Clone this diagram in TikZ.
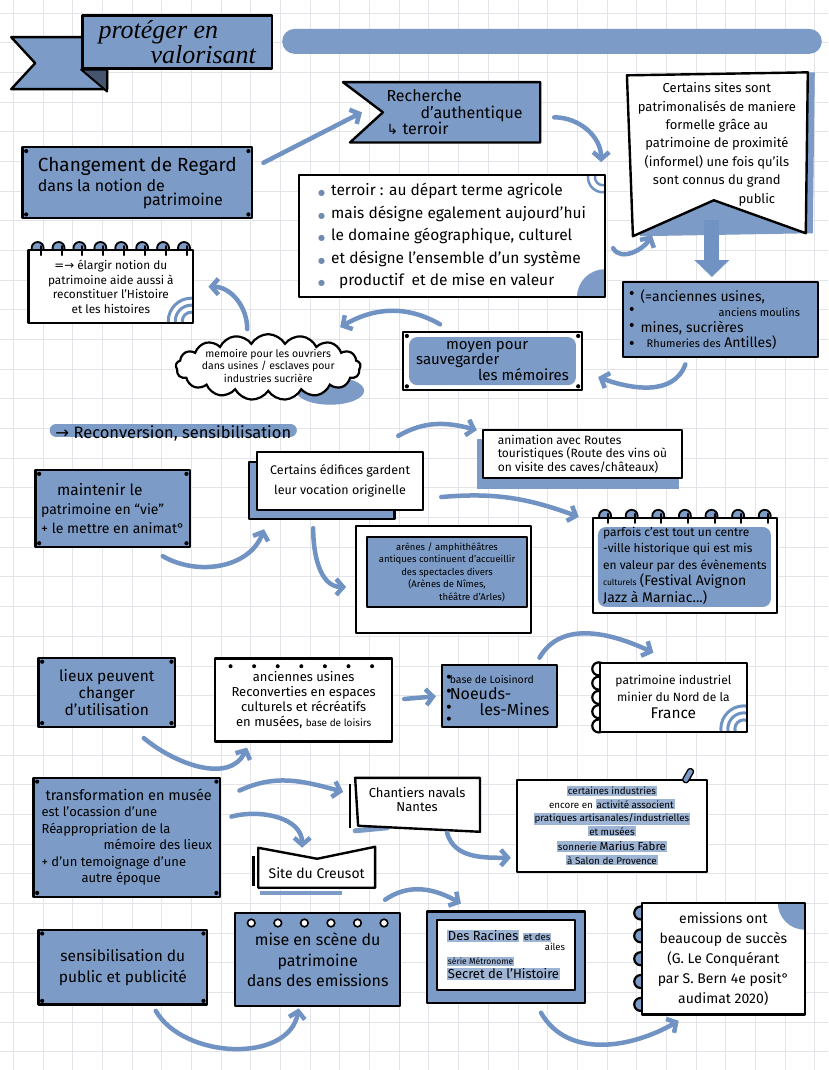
\documentclass[tikz,border=0pt]{standalone}
\usepackage{fontspec}
\setmainfont{Fira Sans}
\newfontfamily\symb{DejaVu Sans}
\newfontfamily\titlefont{Liberation Serif}
\usetikzlibrary{positioning,arrows.meta,calc,shapes.symbols}
\definecolor{bleu}{RGB}{124,155,198}
\definecolor{fleche}{RGB}{112,147,196}
\definecolor{grille}{RGB}{226,228,234}
\newcommand\tsz[2]{\fontsize{#1}{#2}\selectfont}
\newcommand\surl[1]{{\setlength{\fboxsep}{1pt}\colorbox{bleu!75}{#1}}}
\newcommand\puce{{\symb\tsz{8}{8}\textcolor{bleu!90!black}{●}}\hspace{6pt}}
\newcommand\coins[1]{\foreach \ca/\dx/\dy in {north west/5/5,north east/-5/5,south west/5/-5,south east/-5/-5}{\fill ([shift={(\dx,\dy)}]#1.\ca) circle (2.1pt);}}
\newcommand\anneauxhaut[2]{%
  \begin{pgfonlayer}{back}
  \foreach \k in {1,...,#2}{\draw[line width=1.8pt, fill=bleu] ($(#1.north west)!{(\k-0.5)/#2}!(#1.north east)$) ++(0,-1) circle (6pt);}
  \end{pgfonlayer}
  \foreach \k in {1,...,#2}{\draw[line width=2pt, line cap=round] ($(#1.north west)!{(\k-0.5)/#2}!(#1.north east)$) ++(3,-3) -- ++(0,9);}}
\newcommand\anneauxgauche[3]{%
  \begin{pgfonlayer}{back}
  \foreach \k in {1,...,#2}{\draw[line width=2.2pt, fill=#3] ($(#1.north west)!{(\k-0.5)/#2}!(#1.south west)$) circle (6.5pt);}
  \end{pgfonlayer}}
\pgfdeclarelayer{grid}
\pgfdeclarelayer{back}
\pgfsetlayers{grid,back,main}
\tikzset{
    bluebox/.style = {
        draw,
        shape=rectangle,
        fill=bleu,
        line width=2.4pt,
        line join=round,
        inner sep=2pt,
        align=center
    },
    whitebox/.style = {
        bluebox,
        fill=white
    },
    frame/.style = {
        draw,
        line width=2.4pt,
        line join=round
    },
    arr/.style = {
        draw=fleche,
        line width=4.5pt,
        line cap=round,
        -{Straight Barb[length=7pt,width=16pt]}
    },
    bigarr/.style = {
        draw=fleche,
        line width=15pt,
        -{Triangle[length=17pt,width=34pt]}
    },
}

\begin{document}
\begin{tikzpicture}[x=1pt, y=-1pt]
    \begin{pgfonlayer}{grid}
        \fill[white] (0,0) rectangle (828,1070);
        \foreach \gx in {13,42.7,...,828} \draw[grille, line width=0.8pt] (\gx,0) -- (\gx,1070);
        \foreach \gy in {12.6,42.3,...,1070} \draw[grille, line width=0.8pt] (0,\gy) -- (828,\gy);
    \end{pgfonlayer}
    \useasboundingbox (0,0) rectangle (828,1070);

    % bandeau du titre
    \node[bluebox, minimum width=190pt, minimum height=53pt, align=left, font={\titlefont\itshape\tsz{26}{20}}] (titre) at (177,41.5) {protéger en\\\hspace*{52pt}valorisant};
    \begin{pgfonlayer}{back}
        \draw[frame, fill=bleu] ([shift={(0,23)}]titre.north west) -- ++(-70,0) -- ++(24,26) -- ++(-24,26) -- ++(96,0) -- ++(0,-30) -- cycle;
        \draw[frame, line width=2pt, fill=bleu!55!black] (titre.south west) -- ++(26,0) -- ++(0,22) -- cycle;
    \end{pgfonlayer}
    \node[fill=bleu, rounded corners=12.5pt, minimum width=540pt, minimum height=25pt, inner sep=0pt] (bandeau) at (552,41) {};

    % premiere partie
    \node[bluebox, minimum width=230pt, minimum height=71pt, align=left, font=\tsz{16}{20}] (regard) at (137,182.5) {{\tsz{19}{22}Changement de Regard}\\dans la notion de\\[-6pt]\hspace*{105pt}patrimoine};
    \coins{regard}
    \node[minimum width=197pt, minimum height=60pt, align=left, inner sep=0pt, font=\tsz{16}{16.5}] (rech) at (441.5,112) {\hspace*{26pt}Recherche\\\hspace*{60pt}d'authentique\\\hspace*{26pt}{\symb\tsz{14}{16.5}↳} terroir};
    \begin{pgfonlayer}{back}
        \draw[frame, fill=bleu] (rech.north west) -- (rech.north east) -- (rech.south east) -- ([shift={(7,0)}]rech.south west) -- ([shift={(40,0)}]rech.west) -- cycle;
    \end{pgfonlayer}
    \node[align=center, inner sep=0pt, font=\tsz{13}{18.5}] (sites) at (717,144) {Certains sites sont\\patrimonalisés de maniere\\formelle grâce au\\patrimoine de proximité\\(informel) une fois qu'ils\\sont connus du grand\\\hspace*{80pt}public};
    \begin{pgfonlayer}{back}
        \fill[bleu] ([shift={(-83,-69)}]sites.center) -- ([shift={(98,-72)}]sites.center) -- ([shift={(96,89)}]sites.center) -- ([shift={(-77,92)}]sites.center) -- cycle;
        \draw[frame, fill=white] ([shift={(-90,-69)}]sites.center) -- ([shift={(91,-72)}]sites.center) -- ([shift={(89,89)}]sites.center) -- ([shift={(-3,56)}]sites.center) -- ([shift={(-84,92)}]sites.center) -- cycle;
    \end{pgfonlayer}
    \node[whitebox, minimum width=306pt, minimum height=122pt, align=left, font=\tsz{15.5}{22.5},
        path picture={\fill[bleu] (path picture bounding box.south east) circle (28pt);
            \draw[fleche, line width=2.5pt] ([shift={(-2,2)}]path picture bounding box.north east) circle (8pt) circle (15pt);}] (terroir) at (452,236)
        {\puce terroir : au départ terme agricole\\\puce mais désigne egalement aujourd'hui\\\puce le domaine géographique, culturel\\\puce et désigne l'ensemble d'un système\\\puce\hspace*{8pt}productif\hspace*{8pt}et de mise en valeur};
    \node[whitebox, minimum width=165pt, minimum height=73pt, font=\tsz{11.8}{14.5},
        path picture={\draw[fleche, line width=3pt] ([shift={(-2,-2)}]path picture bounding box.south east) circle (9pt) circle (16pt) circle (23pt);}] (elargir) at (110.5,286.5)
        {{\symb=→} élargir notion du\\patrimoine aide aussi à\\reconstituer l'Histoire\\et les histoires};
    \anneauxhaut{elargir}{8}
    \node[cloud, cloud puffs=17, cloud puff arc=120, aspect=2.85, draw, fill=white, line width=2.2pt, minimum width=185pt, minimum height=66pt, inner sep=0pt] (nuage) at (268,367)
        {\tsz{10.5}{13}\makebox[0pt]{\smash{\raisebox{-3pt}{\begin{tabular}{@{}c@{}}memoire pour les ouvriers\\dans usines / esclaves pour\\industries sucrière\end{tabular}}}}};
    \begin{pgfonlayer}{back}
        \fill[bleu] ([shift={(62,-2)}]nuage.south) ellipse [x radius=34pt, y radius=14pt];
    \end{pgfonlayer}
    \node[whitebox, minimum width=179pt, minimum height=58pt, align=left, font=\tsz{15}{14},
        path picture={\fill[bleu, rounded corners=8pt] ([shift={(6,5)}]path picture bounding box.north west) rectangle ([shift={(-6,-5)}]path picture bounding box.south east);}] (moyen) at (492.5,361)
        {\hspace*{30pt}moyen pour\\sauvegarder\\\hspace*{62pt}les mémoires};
    \coins{moyen}
    \node[bluebox, minimum width=195pt, minimum height=75pt, align=left, font=\tsz{14}{15.5}] (anc) at (720.5,319.5) {(=anciennes usines,\\\hspace*{78pt}{\tsz{11}{15.5}anciens moulins}\\mines, sucrières\\\hspace*{6pt}{\tsz{11}{15.5}Rhumeries des} Antilles)};
    \foreach \k in {12,28,44,62} \fill ([shift={(10,\k)}]anc.north west) circle (2pt);

    % deuxieme partie
    \node[inner sep=1pt, font=\tsz{16.5}{18}] (reconv) at (173,433) {{\symb →} Reconversion, sensibilisation};
    \begin{pgfonlayer}{back}
        \draw[bleu, line width=13pt, line cap=round] ([shift={(2,-3)}]reconv.west) -- ([shift={(-2,-3)}]reconv.east);
    \end{pgfonlayer}
    \node[bluebox, minimum width=155pt, minimum height=77pt, align=left, font=\tsz{14}{19}] (maint) at (112.5,508.5) {\hspace*{16pt}{\tsz{15.5}{19}maintenir le}\\patrimoine en “vie”\\+ le mettre en animat°};
    \coins{maint}
    \node[whitebox, minimum width=166pt, minimum height=58pt, align=left, font=\tsz{12.5}{20}] (edif) at (340,481) {Certains édifices gardent\\\hspace*{4pt}leur vocation originelle};
    \node[whitebox, minimum width=199pt, minimum height=48pt, align=left, font=\tsz{12}{13.5}] (anim) at (582.5,454) {animation avec Routes\\touristiques (Route des vins où\\on visite des caves/châteaux)};
    \node[bluebox, minimum width=160pt, minimum height=70pt, line width=2pt, font=\tsz{9.5}{12.5}] (arenes) at (447,572) {arènes / amphithéâtres\\antiques continuent d'accueillir\\des spectacles divers\\(Arènes de Nîmes,\\\hspace*{50pt}théâtre d'Arles)};
    \node[whitebox, minimum width=184pt, minimum height=95pt, align=left, font=\tsz{12}{16.5},
        path picture={\fill[bleu, rounded corners=8pt] ([shift={(5,9)}]path picture bounding box.north west) rectangle ([shift={(-6,-6)}]path picture bounding box.south east);}] (parfois) at (685,565.5)
        {parfois c'est tout un centre\\-ville historique qui est mis\\en valeur par des évènements\\{\tsz{8.5}{16.5}culturels} {\tsz{14}{16.5}(Festival Avignon}\\{\tsz{14}{16.5}Jazz à Marniac...)}};
    \anneauxhaut{parfois}{7}
    \begin{pgfonlayer}{back}
        \draw[frame, fill=bleu] ([shift={(-7,11)}]edif.north west) rectangle ([shift={(-30,8)}]edif.south east);
        \fill[bleu] ([shift={(-5,10)}]anim.north west) rectangle ([shift={(-4,10)}]anim.south east);
        \draw[frame, fill=white] ([shift={(-10,-10)}]arenes.north west) rectangle ([shift={(3,25)}]arenes.south east);
    \end{pgfonlayer}

    \node[bluebox, minimum width=137pt, minimum height=69pt, font=\tsz{15.5}{17}] (lieux) at (106.5,692.5) {lieux peuvent\\changer\\d'utilisation};
    \coins{lieux}
    \node[whitebox, minimum width=177pt, minimum height=83pt, font=\tsz{13}{15}] (usines) at (303.5,700) {anciennes usines\\Reconverties en espaces\\culturels et récréatifs\\en musées, {\tsz{10}{15}base de loisirs}};
    \foreach \k in {1,...,7} \fill ($(usines.north west)!{(\k-0.3)/7.6}!(usines.north east)$) ++(0,9) circle (2pt);
    \node[bluebox, minimum width=115pt, minimum height=62pt, align=left, font=\tsz{16}{16}] (loisi) at (499.5,696) {{\tsz{10.5}{12}base de Loisinord}\\Noeuds-\\\hspace*{30pt}les-Mines};
    \foreach \k in {13,27,43,55} \fill ([shift={(8,\k)}]loisi.north west) circle (2pt);
    \node[whitebox, minimum width=147pt, minimum height=69pt, font=\tsz{12}{17},
        path picture={\draw[fleche, line width=3pt] ([shift={(-3,-3)}]path picture bounding box.south east) circle (9pt) circle (16pt) circle (23pt);}] (patind) at (673.5,697.5)
        {patrimoine industriel\\minier du Nord de la\\{\tsz{15.5}{17}France}};
    \anneauxgauche{patind}{5}{white}

    \node[bluebox, minimum width=187pt, minimum height=119pt, align=left, font=\tsz{13}{16.5}] (transf) at (126.5,837.5) {\hspace*{4pt}{\tsz{14.5}{16.5}transformation en musée}\\est l'ocassion d'une\\Réappropriation de la\\\hspace*{62pt}mémoire des lieux\\+ d'un temoignage d'une\\\hspace*{40pt}autre époque};
    \coins{transf}
    \node[inner sep=0pt, align=center, font=\tsz{13}{14}] (chant) at (417,800) {Chantiers navals\\Nantes};
    \node[inner sep=0pt, font=\tsz{14}{15}] (creus) at (316.5,873) {Site du Creusot};
    \begin{pgfonlayer}{back}
        \draw[bleu, line width=5pt, line cap=round] ([shift={(-62,31)}]chant.center) -- ([shift={(-30,28)}]chant.center);
        \draw[line width=2.5pt] ([shift={(-67,-16)}]chant.center) -- ([shift={(-67,28)}]chant.center);
        \draw[frame, fill=white] ([shift={(-62,-22)}]chant.center) -- ([shift={(63,-22)}]chant.center) -- ([shift={(63,32)}]chant.center) -- ([shift={(-59,26)}]chant.center) -- cycle;
        \draw[bleu, line width=4pt] ([shift={(-56.5,20)}]creus.center) -- ([shift={(25.5,20)}]creus.center);
        \draw[line width=2.5pt] ([shift={(-63,-17)}]creus.center) -- ([shift={(-63,13)}]creus.center);
        \draw[frame, fill=white] ([shift={(-58.5,-25)}]creus.center) -- ([shift={(0.5,-14)}]creus.center) -- ([shift={(58.5,-26)}]creus.center) -- ([shift={(58.5,15)}]creus.center) -- ([shift={(-58.5,15)}]creus.center) -- cycle;
    \end{pgfonlayer}
    \node[whitebox, minimum width=190pt, minimum height=92pt, font=\tsz{9.8}{13.5}] (indus) at (612,826) {\surl{certaines industries}\\encore en \surl{activité associent}\\\surl{pratiques artisanales/industrielles}\\\surl{et musées}\\[2pt]\surl{sonnerie {\tsz{11.5}{13.5}Marius Fabre}}\\\surl{à Salon de Provence}};
    \node[draw, fill=bleu, line width=1.3pt, rounded corners=2.5pt, minimum width=6pt, minimum height=15pt, inner sep=0pt, rotate=-30] (trombone) at ([shift={(-20,-3)}]indus.north east) {};

    % troisieme partie
    \node[bluebox, minimum width=169pt, minimum height=75pt, font=\tsz{15.5}{21}] (sens) at (122.5,967.5) {sensibilisation du\\public et publicité};
    \coins{sens}
    \node[bluebox, minimum width=165pt, minimum height=93pt, font=\tsz{16}{20.5}] (mise) at (317.5,960) {mise en scène du\\patrimoine\\dans des emissions};
    \foreach \k in {1,...,6} \draw[line width=1.6pt, fill=white] ($(mise.north west)!{(\k-0.35)/6.3}!(mise.north east)$) ++(0,11) circle (3.8pt);
    \node[whitebox, minimum width=138pt, minimum height=70pt, line width=2.2pt, align=left, font=\tsz{13}{14}] (racines) at (506,955) {\surl{Des Racines} {\tsz{9.5}{13}\surl{et des}}\\[-4pt]\hspace*{98pt}{\tsz{9.5}{11}ailes}\\{\tsz{8.5}{12}\surl{série Métronome}}\\\surl{Secret de l'Histoire}};
    \begin{pgfonlayer}{back}
        \draw[frame, fill=bleu] ([shift={(-9,-7)}]racines.north west) rectangle ([shift={(9,12)}]racines.south east);
    \end{pgfonlayer}
    \node[whitebox, minimum width=163pt, minimum height=112pt, font=\tsz{14}{20},
        path picture={\fill[bleu] (path picture bounding box.north east) circle (27pt);}] (emis) at (723.5,959)
        {emissions ont\\beaucoup de succès\\(G. Le Conquérant\\par S. Bern 4e posit°\\audimat 2020)};
    \anneauxgauche{emis}{5}{bleu}

    % fleches
    \path[arr] ([shift={(10,-20)}]regard.east) -- ([shift={(19,0)}]rech.west);
    \path[arr] ([shift={(14,5)}]rech.east) to[out=0, in=90] ([shift={(-5,-12)}]terroir.north east);
    \path[arr] ([shift={(7,12)}]terroir.east) to[out=-60, in=-120] ([shift={(-65,91)}]sites.center);
    \path[bigarr] ([shift={(-5,76)}]sites.center) -- ([shift={(-8.5,-4)}]anc.north);
    \path[arr] ([shift={(-35,6)}]anc.south) to[out=-110, in=-20] ([shift={(15,16)}]moyen.east);
    \path[arr] ([shift={(-12,26)}]terroir.south) to[out=150, in=30] ([shift={(72,-40)}]nuage.center);
    \path[arr] ([shift={(-21,-4)}]nuage.north) to[out=90, in=0] ([shift={(14,0)}]elargir.east);
    \path[arr] ([shift={(50,8)}]maint.south) to[out=-30, in=-110] ([shift={(8,18)}]edif.south west);
    \path[arr] ([shift={(-27,17)}]edif.south) to[out=-90, in=180] ([shift={(-20,15)}]arenes.west);
    \path[arr] ([shift={(-26,-15)}]edif.north east) to[out=30, in=165] ([shift={(-5,-24)}]anim.west);
    \path[arr] ([shift={(17,16)}]edif.east) to[out=5, in=160] ([shift={(-13,0)}]parfois.north west);
    \path[arr] ([shift={(37,10)}]lieux.south) to[out=-40, in=-115] ([shift={(33,5)}]usines.south west);
    \path[arr, shorten <=11pt, shorten >=5pt] (usines.east) -- (loisi.west);
    \path[arr] ([shift={(40,-6)}]loisi.north) to[out=60, in=155] ([shift={(-20,-9)}]patind.north);
    \path[arr] ([shift={(18,14)}]transf.north east) to[out=25, in=165] ([shift={(-74,-8)}]chant.center);
    \path[arr] ([shift={(10,40)}]transf.north east) to[out=15, in=90] ([shift={(-14.5,-25)}]creus.center);
    \path[arr] ([shift={(30,33)}]chant.center) to[out=-75, in=180] ([shift={(-5,32)}]indus.west);
    \path[arr] ([shift={(68.5,27)}]creus.center) to[out=35, in=150] ([shift={(25,-15)}]racines.north west);
    \path[arr] ([shift={(33,5)}]sens.south) to[out=-60, in=-100] ([shift={(-19,1)}]mise.south);
    \path[arr] ([shift={(35,22)}]racines.south) to[out=-60, in=-150] ([shift={(38,5)}]emis.south west);
\end{tikzpicture}
\end{document}
